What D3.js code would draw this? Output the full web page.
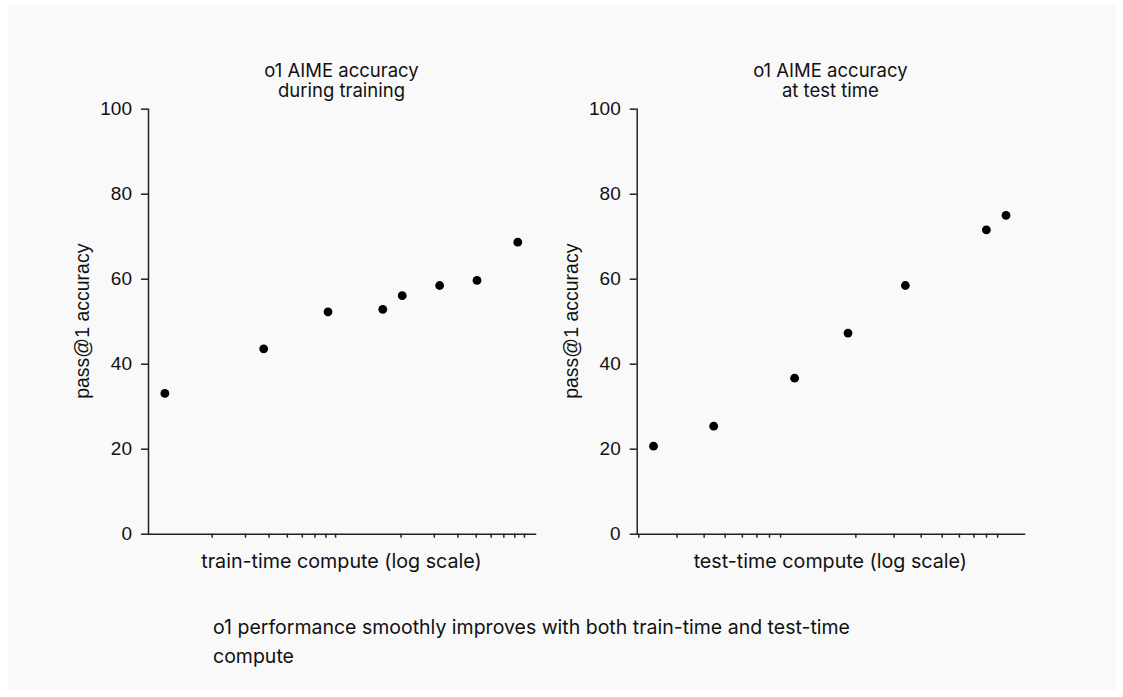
<!DOCTYPE html>
<html>
<head>
<meta charset="utf-8">
<script src="https://cdn.jsdelivr.net/npm/d3@7"></script>
<style>
  body { margin: 0; background: #fff; }
  svg { display: block; }
  .tick text { font-family: "Liberation Sans", Arial, sans-serif; font-size: 19px; fill: #111; }
  .axis path, .axis line { stroke: #222; stroke-width: 1.5; }
</style>
</head>
<body>
<div id="container"></div>
<script>
// values
const trainCompute = [1.13, 3.77, 8.26, 16.1, 20.4, 32.2, 50.8, 83.5];
const trainAccuracy = [33.0, 43.5, 52.2, 52.8, 56.0, 58.4, 59.6, 68.6];
const testCompute = [2.35, 4.45, 10.5, 18.5, 34.0, 80.3, 98.9];
const testAccuracy = [20.6, 25.3, 36.6, 47.2, 58.4, 71.5, 74.9];
const yTicks = [0, 20, 40, 60, 80, 100];
const xTicks = [2, 3, 4, 5, 6, 7, 8, 9, 20, 30, 40, 50, 60, 70, 80, 90];

const width = 1123, height = 697;

const svg = d3.select('#container').append('svg')
  .attr('width', width)
  .attr('height', height);

svg.append('rect')
  .attr('x', 8).attr('y', 5)
  .attr('width', 1108).attr('height', 685)
  .attr('fill', '#f9f9f9');

const yScale = d3.scaleLinear().domain([0, 100]).range([533.7, 108.7]);

function drawPanel(opts) {
  const xScale = d3.scaleLog().domain(opts.domain).range(opts.range);
  const g = svg.append('g');
  const cx = (opts.range[0] + opts.range[1]) / 2;

  g.append('g')
    .attr('class', 'axis')
    .attr('transform', `translate(0,${yScale(0)})`)
    .call(d3.axisBottom(xScale).tickValues(xTicks).tickSize(4).tickSizeOuter(0).tickFormat(''));

  g.append('g')
    .attr('class', 'axis')
    .attr('transform', `translate(${opts.range[0]},0)`)
    .call(d3.axisLeft(yScale).tickValues(yTicks).tickSize(7).tickSizeOuter(0).tickPadding(9));

  g.selectAll('.axis .domain').attr('stroke-linecap', 'square');

  const title = g.append('text')
    .attr('text-anchor', 'middle')
    .attr('font-family', 'Inter, sans-serif')
    .attr('font-size', 18.5)
    .attr('fill', '#111');
  opts.title.forEach((t, k) => {
    title.append('tspan').attr('x', cx).attr('y', 77 + k * 20).text(t);
  });

  g.append('text')
    .attr('transform', `translate(${opts.range[0] - 66},${yScale(50)}) rotate(-90)`)
    .attr('text-anchor', 'middle')
    .attr('dy', '0.35em')
    .attr('font-family', '"Liberation Sans", Arial, sans-serif')
    .attr('font-size', 19.5)
    .attr('fill', '#111')
    .text('pass@1 accuracy');

  g.append('text')
    .attr('x', cx)
    .attr('y', 568)
    .attr('text-anchor', 'middle')
    .attr('font-family', 'Inter, sans-serif')
    .attr('font-size', 19.7)
    .attr('fill', '#111')
    .text(opts.xLabel);

  g.append('g').selectAll('circle')
    .data(opts.x.map((d, k) => ({ x: d, y: opts.y[k] })))
    .enter().append('circle')
    .attr('cx', d => xScale(d.x))
    .attr('cy', d => yScale(d.y))
    .attr('r', 4.4)
    .attr('fill', '#000');
}

drawPanel({
  domain: [0.92, 103], range: [148, 535],
  x: trainCompute, y: trainAccuracy,
  title: ['o1 AIME accuracy', 'during training'],
  xLabel: 'train-time compute (log scale)'
});

drawPanel({
  domain: [1.966, 119.7], range: [636.7, 1024],
  x: testCompute, y: testAccuracy,
  title: ['o1 AIME accuracy', 'at test time'],
  xLabel: 'test-time compute (log scale)'
});

const caption = svg.append('text')
  .attr('font-family', 'Inter, sans-serif')
  .attr('font-size', 19.5)
  .attr('fill', '#111');
caption.append('tspan').attr('x', 213).attr('y', 634).text('o1 performance smoothly improves with both train-time and test-time');
caption.append('tspan').attr('x', 213).attr('y', 663).text('compute');
</script>
</body>
</html>
